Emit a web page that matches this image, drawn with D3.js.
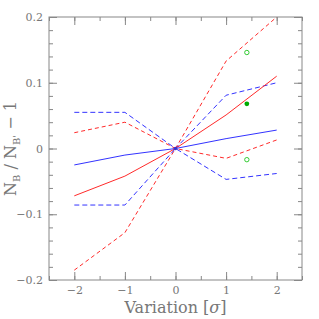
<!DOCTYPE html>
<html>
<head>
<meta charset="utf-8">
<script src="https://cdn.jsdelivr.net/npm/d3@7"></script>
<style>
  body { margin: 0; background: #fff; }
  text { font-family: "DejaVu Serif", "Liberation Serif", serif; fill: #777; }
</style>
</head>
<body>
<div id="chart"></div>
<script>
// data
const sigmas = [-2, -1, 0, 1, 2];
const blueSolid = [-0.025, -0.010, 0, 0.015, 0.028];
const redSolid = [-0.072, -0.042, 0, 0.051, 0.110];
const blueDashUp = [0.055, 0.055, 0, 0.081, 0.100];
const blueDashLo = [-0.086, -0.086, 0, -0.047, -0.038];
const redDashUp = [-0.185, -0.128, 0, 0.133, 0.200];
const redDashLo = [0.024, 0.040, 0, -0.015, 0.013];
const greenFilled = [{ x: 1.41, y: 0.068 }];
const greenOpen = [{ x: 1.41, y: 0.146 }, { x: 1.41, y: -0.017 }];
const xTicks = [-2, -1, 0, 1, 2];
const yTicks = [-0.2, -0.1, 0, 0.1, 0.2];

const width = 319, height = 319;
const margin = { top: 17, right: 17, bottom: 39, left: 49 };

const svg = d3.select("#chart").append("svg")
  .attr("width", width)
  .attr("height", height);

const x = d3.scaleLinear().domain([-2.5, 2.5]).range([margin.left, width - margin.right]);
const y = d3.scaleLinear().domain([-0.2, 0.2]).range([height - margin.bottom, margin.top]);

const axisColor = "#888";

// frame
svg.append("rect")
  .attr("x", margin.left).attr("y", margin.top)
  .attr("width", x(2.5) - x(-2.5)).attr("height", y(-0.2) - y(0.2))
  .attr("fill", "none").attr("stroke", axisColor).attr("stroke-width", 1);

// axes with inward ticks
function styleAxis(g) {
  g.select(".domain").remove();
  g.selectAll("line").attr("stroke", axisColor);
  g.selectAll("text").style("font-size", "11px").attr("fill", "#777");
}
const minorX = d3.range(-2.5, 2.51, 0.5);
const minorY = d3.range(-0.2, 0.201, 0.02);

svg.append("g").attr("transform", `translate(0,${y(-0.2)})`)
  .call(d3.axisBottom(x).tickValues(minorX).tickSize(-4).tickFormat(""))
  .call(styleAxis);
svg.append("g").attr("transform", `translate(0,${y(-0.2)})`)
  .call(d3.axisBottom(x).tickValues(xTicks).tickSize(-8).tickPadding(6)
    .tickFormat(d => d < 0 ? "\u2212" + Math.abs(d) : d))
  .call(styleAxis);
svg.append("g").attr("transform", `translate(0,${y(0.2)})`)
  .call(d3.axisTop(x).tickValues(minorX).tickSize(-4).tickFormat(""))
  .call(styleAxis);
svg.append("g").attr("transform", `translate(0,${y(0.2)})`)
  .call(d3.axisTop(x).tickValues(xTicks).tickSize(-8).tickFormat(""))
  .call(styleAxis);

svg.append("g").attr("transform", `translate(${x(-2.5)},0)`)
  .call(d3.axisLeft(y).tickValues(minorY).tickSize(-4).tickFormat(""))
  .call(styleAxis);
svg.append("g").attr("transform", `translate(${x(-2.5)},0)`)
  .call(d3.axisLeft(y).tickValues(yTicks).tickSize(-8).tickPadding(6)
    .tickFormat(d => d === 0 ? "0" : (d < 0 ? "\u2212" : "") + Math.abs(d).toFixed(1)))
  .call(styleAxis);
svg.append("g").attr("transform", `translate(${x(2.5)},0)`)
  .call(d3.axisRight(y).tickValues(minorY).tickSize(-4).tickFormat(""))
  .call(styleAxis);
svg.append("g").attr("transform", `translate(${x(2.5)},0)`)
  .call(d3.axisRight(y).tickValues(yTicks).tickSize(-8).tickFormat(""))
  .call(styleAxis);

// clip
svg.append("clipPath").attr("id", "clip")
  .append("rect")
  .attr("x", margin.left).attr("y", margin.top)
  .attr("width", x(2.5) - x(-2.5)).attr("height", y(-0.2) - y(0.2));

const plot = svg.append("g").attr("clip-path", "url(#clip)");

const line = d3.line().x((d, i) => x(sigmas[i])).y(d => y(d));

const series = [
  { v: redDashUp, color: "#ff2a2a", dash: "4,3" },
  { v: redDashLo, color: "#ff2a2a", dash: "4,3" },
  { v: blueDashUp, color: "#3333ff", dash: "5,3" },
  { v: blueDashLo, color: "#3333ff", dash: "5,3" },
  { v: redSolid, color: "#ff2a2a", dash: null },
  { v: blueSolid, color: "#3333ff", dash: null }
];

plot.selectAll(".series")
  .data(series)
  .enter()
  .append("path")
  .attr("class", "series")
  .attr("d", d => line(d.v))
  .attr("fill", "none")
  .attr("stroke", d => d.color)
  .attr("stroke-width", 1)
  .attr("stroke-dasharray", d => d.dash);

// centre marker
plot.append("circle")
  .attr("cx", x(0)).attr("cy", y(0)).attr("r", 1.8)
  .attr("fill", "#3333cc");

// green points
plot.selectAll(".gopen")
  .data(greenOpen)
  .enter()
  .append("circle")
  .attr("cx", d => x(d.x)).attr("cy", d => y(d.y)).attr("r", 2.2)
  .attr("fill", "none").attr("stroke", "#33cc33").attr("stroke-width", 1);

plot.selectAll(".gfill")
  .data(greenFilled)
  .enter()
  .append("circle")
  .attr("cx", d => x(d.x)).attr("cy", d => y(d.y)).attr("r", 2.4)
  .attr("fill", "#00aa00");

// x label
svg.append("text")
  .attr("x", x(0))
  .attr("y", 313)
  .attr("text-anchor", "middle")
  .style("font-size", "16px")
  .html('Variation [<tspan font-style="italic">σ</tspan>]');

// y label
const yl = svg.append("text")
  .attr("transform", `translate(16,${y(0)}) rotate(-90)`)
  .attr("text-anchor", "middle")
  .style("font-size", "16px");
yl.append("tspan").text("N");
yl.append("tspan").attr("dy", 4).style("font-size", "10px").text("B");
yl.append("tspan").attr("dy", -4).text(" / N");
yl.append("tspan").attr("dy", 4).style("font-size", "10px").text("B'");
yl.append("tspan").attr("dy", -4).text(" \u2212 1");
</script>
</body>
</html>
